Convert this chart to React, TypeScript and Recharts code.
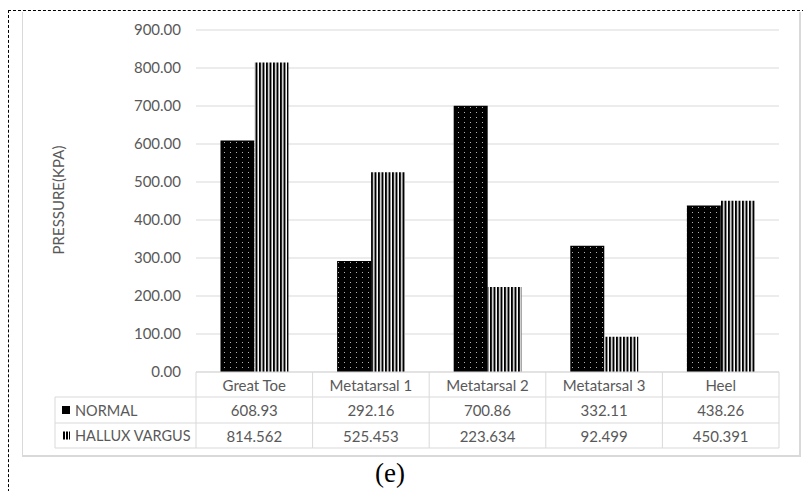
import { BarChart, Bar, XAxis, YAxis, CartesianGrid } from "recharts";

const categories = ["Great Toe", "Metatarsal 1", "Metatarsal 2", "Metatarsal 3", "Heel"];
const normal = [608.93, 292.16, 700.86, 332.11, 438.26];
const halluxVargus = [814.562, 525.453, 223.634, 92.499, 450.391];
const yTicks = [0, 100, 200, 300, 400, 500, 600, 700, 800, 900];

const data = categories.map((name, i) => ({
  name,
  normal: normal[i],
  hallux: halluxVargus[i],
}));

const FONT = "Lato, 'Open Sans', sans-serif";
const TEXT = "#595959";
const LINE = "#d9d9d9";
const TABLE_LEFT = 55;
const ROWS = [25, 26, 25];

// x-axis tick drawn as one column of the data table under the plot
const TableTick = (props: any) => {
  const { x, y, payload, index } = props;
  const half = payload?.offset || 58.3;
  const left = x - half;
  const right = x + half;
  const r1 = y + ROWS[0];
  const r2 = r1 + ROWS[1];
  const r3 = r2 + ROWS[2];
  const txt = { fill: TEXT, fontSize: 15, fontFamily: FONT, textAnchor: "middle" as const, dominantBaseline: "central" as const };
  return (
    <g>
      <line x1={left} y1={y} x2={left} y2={r3} stroke={LINE} />
      {index === categories.length - 1 && <line x1={right} y1={y} x2={right} y2={r3} stroke={LINE} />}
      <line x1={index === 0 ? TABLE_LEFT : left} y1={r1} x2={right} y2={r1} stroke={LINE} />
      <line x1={index === 0 ? TABLE_LEFT : left} y1={r2} x2={right} y2={r2} stroke={LINE} />
      <line x1={index === 0 ? TABLE_LEFT : left} y1={r3} x2={right} y2={r3} stroke={LINE} />
      <text x={x} y={(y + r1) / 2} {...txt}>{payload.value}</text>
      <text x={x} y={(r1 + r2) / 2} {...txt}>{String(normal[index])}</text>
      <text x={x} y={(r2 + r3) / 2} {...txt}>{String(halluxVargus[index])}</text>
      {index === 0 && (
        <g>
          <line x1={TABLE_LEFT} y1={r1} x2={TABLE_LEFT} y2={r3} stroke={LINE} />
          <rect x={62} y={(r1 + r2) / 2 - 4} width={8} height={8} fill="#000" />
          <rect x={62} y={(r2 + r3) / 2 - 4} width={8} height={8} fill="url(#stripesLegend)" />
          <text x={75} y={(r1 + r2) / 2} fill={TEXT} fontSize={14.5} fontFamily={FONT} dominantBaseline="central">NORMAL</text>
          <text x={75} y={(r2 + r3) / 2} fill={TEXT} fontSize={14.5} fontFamily={FONT} dominantBaseline="central">HALLUX VARGUS</text>
        </g>
      )}
    </g>
  );
};

export default function App() {
  return (
    <div style={{ position: "absolute", left: 0, top: 0, width: 803, height: 491, background: "#fff", overflow: "hidden" }}>
      <div style={{ position: "absolute", left: 8, top: 10, width: 820, height: 520, border: "1px dashed #000" }} />
      <div style={{ position: "absolute", left: 22, top: 12, width: 776, height: 443, borderLeft: `1px solid ${LINE}`, borderRight: `2px solid ${LINE}`, borderBottom: `2px solid ${LINE}` }} />
      <div style={{ position: "absolute", left: 0, top: 0 }}>
        <BarChart
          width={803}
          height={491}
          data={data}
          margin={{ top: 30, right: 24, bottom: 43, left: 136 }}
          barCategoryGap="21%"
          barGap={0}
        >
          <defs>
            <pattern id="dots" width="6" height="5" patternUnits="userSpaceOnUse">
              <rect width="6" height="5" fill="#000" />
              <rect x="2" y="2" width="1" height="1" fill="#b0b0b0" />
            </pattern>
            <pattern id="stripes" width="3.5" height="4" patternUnits="userSpaceOnUse">
              <rect width="3.5" height="4" fill="#fff" />
              <rect width="2" height="4" fill="#000" />
            </pattern>
            <pattern id="stripesLegend" width="3" height="4" patternUnits="userSpaceOnUse">
              <rect width="3" height="4" fill="#fff" />
              <rect width="2" height="4" fill="#000" />
            </pattern>
          </defs>
          <CartesianGrid vertical={false} stroke={LINE} />
          <XAxis
            dataKey="name"
            height={76}
            interval={0}
            axisLine={{ stroke: LINE }}
            tickLine={false}
            tickSize={0}
            tickMargin={0}
            tick={<TableTick />}
          />
          <YAxis
            width={60}
            domain={[0, 900]}
            ticks={yTicks}
            axisLine={false}
            tickLine={false}
            tickSize={0}
            tickMargin={15}
            tickFormatter={(v: number) => v.toFixed(2)}
            tick={{ fill: TEXT, fontSize: 15, fontFamily: FONT }}
          />
          <Bar dataKey="normal" fill="url(#dots)" isAnimationActive={false} />
          <Bar dataKey="hallux" fill="url(#stripes)" isAnimationActive={false} />
          <text
            x={58}
            y={200}
            transform="rotate(-90 58 200)"
            textAnchor="middle"
            dominantBaseline="central"
            fill={TEXT}
            fontSize={15}
            fontFamily={FONT}
          >
            PRESSURE(KPA)
          </text>
        </BarChart>
      </div>
      <div style={{ position: "absolute", left: 350, top: 456, width: 80, textAlign: "center", fontFamily: "'Liberation Serif', serif", fontSize: 27, lineHeight: "34px", color: "#000" }}>
        (e)
      </div>
    </div>
  );
}
